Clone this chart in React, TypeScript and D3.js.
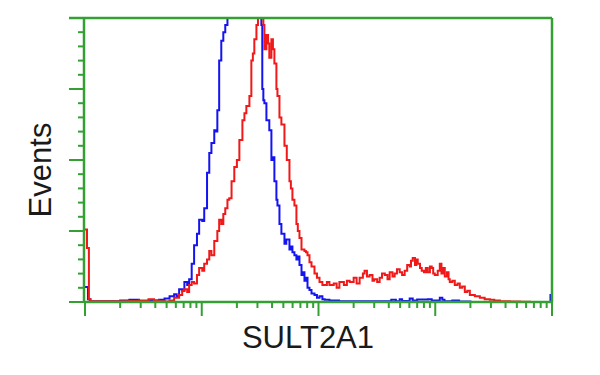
import React from "react";
import * as d3 from "d3";

// Intensity channel (log scale) and event counts
const blueSeries: [number, number][] = [
  [1, 10.5], [1.06, 2], [1.1, 0.5], [1.5, 0.5], [2.0, 1], [2.4, 1.5], [2.9, 0.5], [3.5, 1],
  [4.3, 1.5], [4.8, 2.5], [5.3, 4], [5.8, 5.5], [6.1, 4], [6.4, 9], [6.8, 8], [7.1, 14],
  [7.5, 12], [7.8, 16], [8.2, 27], [8.6, 40], [9.1, 48], [9.5, 58], [10.1, 57], [10.5, 66],
  [11.1, 91], [11.6, 105], [12.1, 112], [12.8, 121], [13.2, 120], [13.6, 135], [14.1, 170],
  [14.7, 184], [15.3, 190], [15.9, 195], [16.6, 215], [17.2, 240], [25, 250], [31.2, 230],
  [32.4, 195], [33.0, 150], [33.7, 142], [34.4, 140], [35.8, 128], [37.9, 121], [39.5, 100],
  [40.7, 102], [41.9, 85], [43.6, 72], [44.5, 68], [46.3, 55], [48.1, 48], [51.1, 41],
  [53, 44], [56.4, 37], [58, 39], [59.8, 35], [62.2, 33], [64.7, 30], [66.5, 32], [68.7, 26],
  [71.5, 19], [73.5, 21], [75.8, 15], [78, 17], [80.5, 10], [83.7, 8.5], [87.1, 6],
  [92.4, 5], [97, 3], [102, 4], [108, 2], [113, 1.5], [124, 1], [150, 0.5], [300, 0.6],
  [420, 1.5], [460, 0.5], [496, 2], [520, 0.7], [604, 2.5], [641, 1], [700, 1.8], [866, 2],
  [933, 1], [1094, 3], [1150, 1.5], [1200, 0.5], [1400, 1], [1600, 0.3], [2000, 0],
  [9400, 0], [9700, 5], [10000, 5]
];

const redSeries: [number, number][] = [
  [1, 51], [1.04, 38], [1.08, 2], [1.12, 0.5], [1.6, 0.5], [2.4, 0.7], [2.9, 1], [3.5, 2],
  [3.9, 1], [4.3, 0.5], [4.8, 0.3], [5.3, 1], [5.8, 3], [6.4, 5], [6.8, 8], [7.1, 9],
  [7.5, 7], [7.8, 12], [8.2, 14], [8.6, 13], [9.1, 19], [9.5, 24], [10.1, 22], [10.5, 27],
  [11.1, 30], [11.6, 36], [12.1, 33], [12.8, 43], [13.6, 50], [14.1, 58], [14.7, 55],
  [15.3, 62], [15.9, 66], [16.6, 72], [17.2, 73], [18.0, 85], [19.0, 95], [20.0, 100],
  [21.0, 114], [22.3, 128], [23.2, 133], [24.1, 138], [25.6, 145], [26.6, 170], [27.4, 175],
  [28.2, 185], [29.4, 195], [30.3, 205], [31.2, 230], [33.7, 195], [34.4, 178], [35.8, 188],
  [37.0, 182], [37.9, 172], [39.5, 185], [40.7, 178], [41.9, 168], [43.6, 150], [44.5, 145],
  [46.3, 130], [48.1, 125], [51.1, 110], [53.5, 100], [56.4, 85], [58, 80], [59.8, 72],
  [62.2, 68], [64.7, 55], [66.5, 50], [68.7, 45], [71.5, 37], [75.8, 36], [78, 35],
  [80.5, 33], [83.7, 28], [87.1, 25], [92.4, 20], [97, 17], [102, 14], [108, 12], [113, 12],
  [118, 14], [124, 12], [135, 13], [143, 10], [151, 14], [165, 12], [175, 15], [185, 14],
  [200, 17], [212, 13], [225, 17], [240, 20], [248, 22], [260, 18], [274, 19], [290, 15],
  [300, 16], [318, 14], [334, 17], [350, 20], [370, 19], [390, 16], [407, 21], [430, 18],
  [449, 20], [470, 23], [496, 21], [520, 19], [547, 22], [575, 26], [604, 25], [620, 29],
  [641, 31], [670, 26], [690, 30], [708, 27], [740, 24], [766, 22], [800, 21], [830, 24],
  [862, 21], [900, 25], [933, 24], [960, 20], [991, 19], [1050, 22], [1094, 27], [1130, 20],
  [1170, 24], [1207, 18], [1260, 21], [1300, 16], [1332, 14], [1400, 15], [1470, 12],
  [1550, 13], [1623, 10], [1700, 11], [1792, 7], [1880, 8], [1978, 5], [2183, 4], [2410, 3],
  [2650, 2], [2937, 1.5], [3200, 1], [3579, 0.5], [4360, 0.3], [5313, 0.2], [6474, 0],
  [10000, 0]
];

const yMajorTicks = [0, 50, 100, 150, 200];
const yMinorTicks = [10, 20, 30, 40, 60, 70, 80, 90, 110, 120, 130, 140, 160, 170, 180, 190];
const xMajorTicks = [1, 10, 100, 1000, 10000];
const xMinorFactors = [2, 3, 4, 5, 6, 7, 8, 9];

const xLabel = "SULT2A1";
const yLabel = "Events";

export default function App() {
  const left = 84, right = 552, top = 18, bottom = 302;
  const x = d3.scaleLog().domain([1, 10000]).range([left + 1, right]);
  const y = d3.scaleLinear().domain([0, 200]).range([bottom, top]);
  const line = d3
    .line<[number, number]>()
    .x((d) => x(d[0]))
    .y((d) => y(d[1]))
    .curve(d3.curveStepAfter);

  const green = "#34a034";
  const xMinor: number[] = [];
  xMajorTicks.slice(0, -1).forEach((m) => xMinorFactors.forEach((f) => xMinor.push(m * f)));

  return (
    <svg
      width={600}
      height={375}
      style={{ position: "absolute", left: 0, top: 0, background: "#fff" }}
    >
      <defs>
        <clipPath id="plotClip">
          <rect x={left} y={top} width={right - left} height={bottom - top + 2} />
        </clipPath>
      </defs>
      <rect x={0} y={0} width={600} height={375} fill="#fff" />
      <g clipPath="url(#plotClip)" fill="none" strokeWidth={2} strokeLinejoin="miter">
        <path d={line(blueSeries) || ""} stroke="#1414f0" />
        <path d={line(redSeries) || ""} stroke="#f01818" />
      </g>
      {/* frame */}
      <g stroke={green} strokeWidth={2.5} fill="none">
        <line x1={left} y1={top} x2={left} y2={bottom} />
        <line x1={left - 15} y1={top} x2={right} y2={top} />
        <line x1={right} y1={top} x2={right} y2={bottom} />
        <line x1={left} y1={bottom} x2={right} y2={bottom} />
      </g>
      {/* y ticks */}
      <g stroke={green} strokeWidth={2}>
        {yMajorTicks.map((t) => (
          <line key={"ym" + t} x1={left - 15} x2={left} y1={y(t)} y2={y(t)} />
        ))}
        {yMinorTicks.map((t) => (
          <line key={"yn" + t} x1={left - 6} x2={left} y1={y(t)} y2={y(t)} />
        ))}
      </g>
      {/* x ticks */}
      <g stroke={green} strokeWidth={2}>
        {xMajorTicks.map((t) => (
          <line key={"xm" + t} x1={x(t)} x2={x(t)} y1={bottom} y2={bottom + 14} />
        ))}
        {xMinor.map((t) => (
          <line key={"xn" + t} x1={x(t)} x2={x(t)} y1={bottom} y2={bottom + 6} />
        ))}
      </g>
      <text
        x={308}
        y={348}
        textAnchor="middle"
        fontFamily="Liberation Sans, Arial, sans-serif"
        fontSize={31}
        fill="#1a1a1a"
      >
        {xLabel}
      </text>
      <text
        transform="translate(51,170) rotate(-90)"
        textAnchor="middle"
        fontFamily="Liberation Sans, Arial, sans-serif"
        fontSize={31}
        fill="#1a1a1a"
      >
        {yLabel}
      </text>
    </svg>
  );
}
